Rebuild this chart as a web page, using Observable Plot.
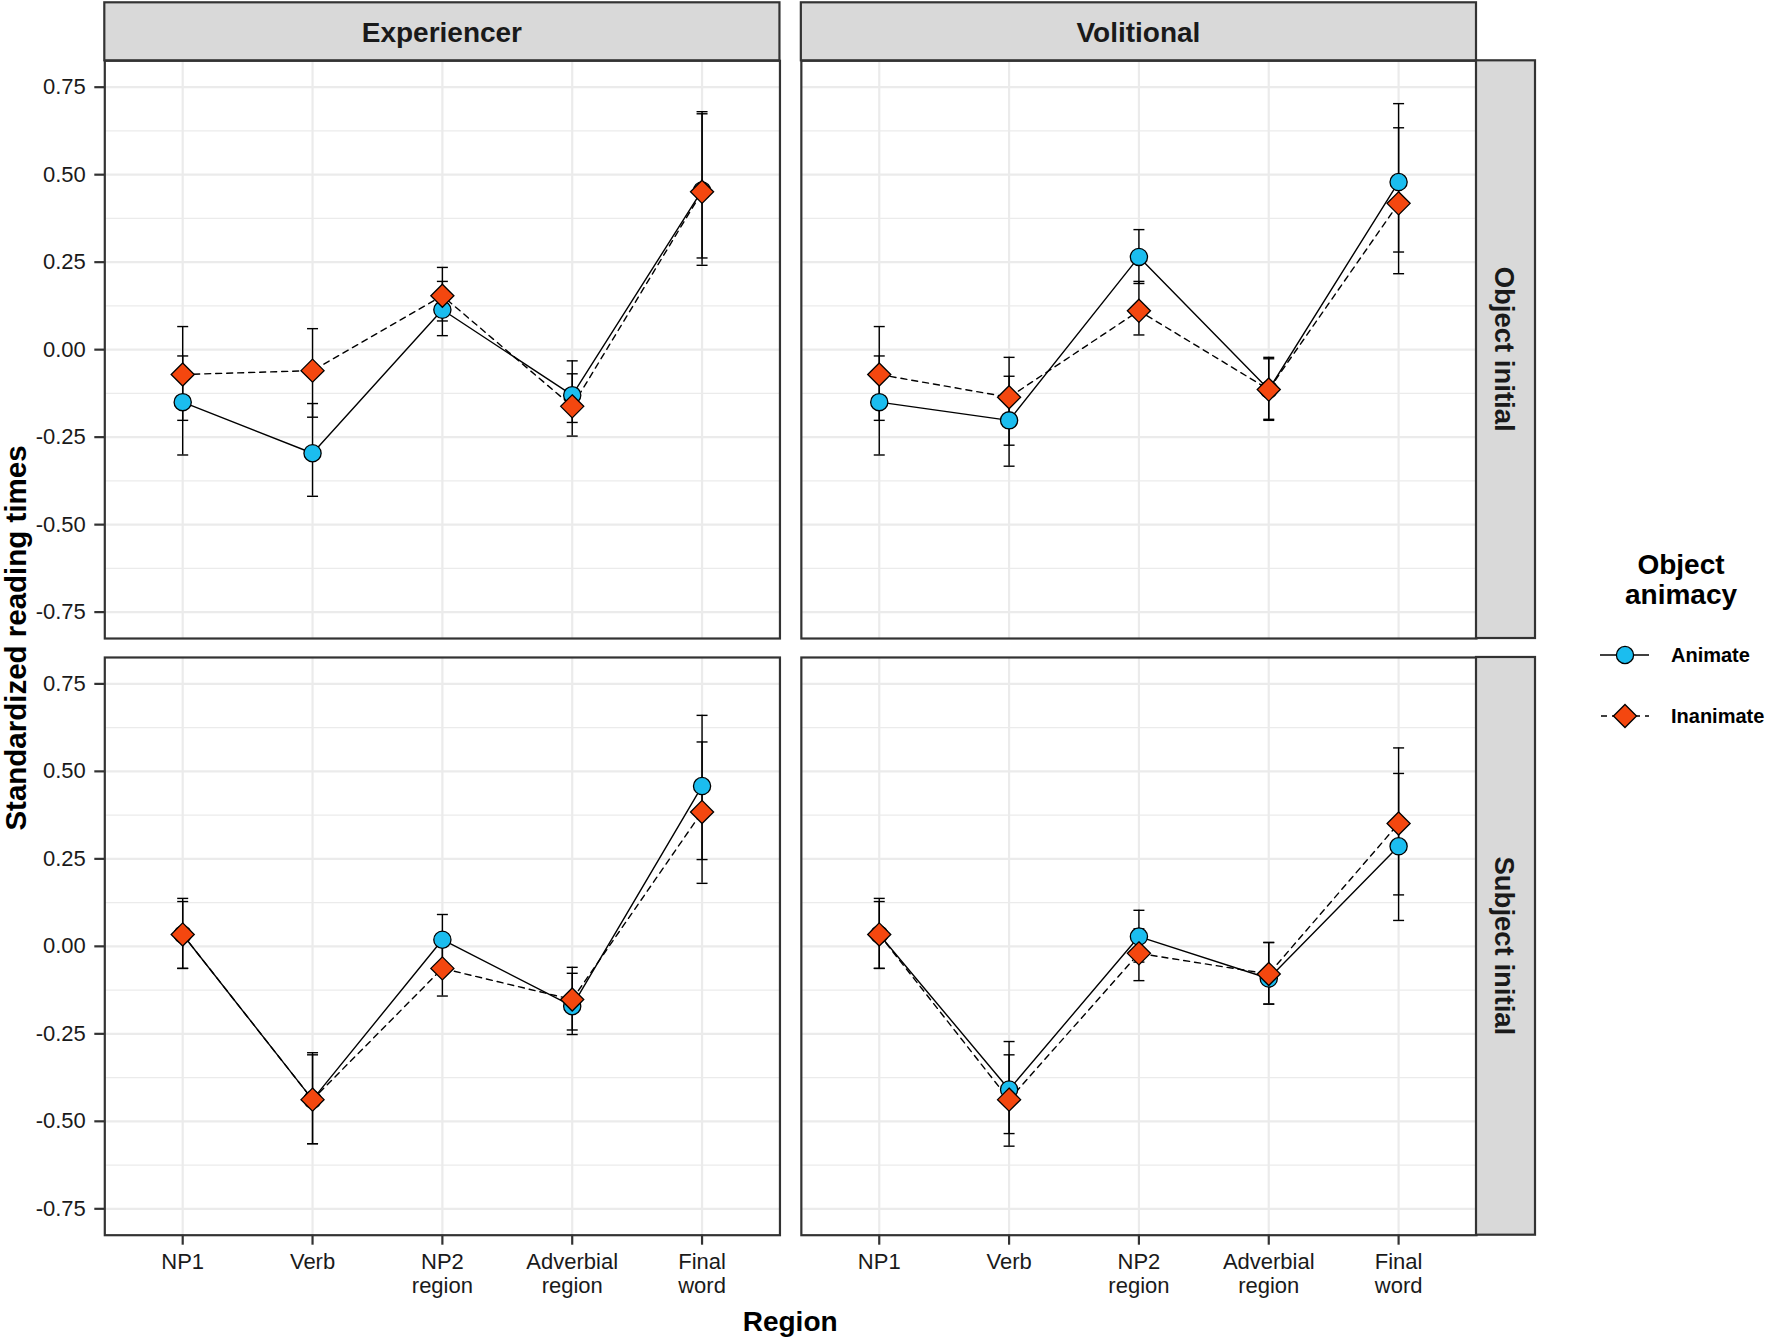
<!DOCTYPE html>
<html><head><meta charset="utf-8">
<script src="https://cdn.jsdelivr.net/npm/d3@7"></script>
<script src="https://cdn.jsdelivr.net/npm/@observablehq/plot@0.6"></script>
<style>
body{margin:0;background:#fff;}
#chart{position:relative;width:1772px;height:1340px;overflow:hidden;}
</style>
</head><body><div id="chart"></div>
<script>
// ---- categories / labels ----
const regions = ["NP1", "Verb", "NP2 region", "Adverbial region", "Final word"];
const regionLabels = ["NP1", "Verb", "NP2\nregion", "Adverbial\nregion", "Final\nword"];
const verbTypes = ["Experiencer", "Volitional"];
const orders = ["Object initial", "Subject initial"];
const animacyLevels = ["Animate", "Inanimate"];
const majorTicks = [-0.75, -0.5, -0.25, 0, 0.25, 0.5, 0.75];
const minorTicks = [-0.625, -0.375, -0.125, 0.125, 0.375, 0.625];
const legendTitle = "Object\nanimacy";
const xTitle = "Region";
const yTitle = "Standardized reading times";

// ---- values ----
// Experiencer / Object initial
const expObjAnimateMean = [-0.150, -0.296, 0.114, -0.130, 0.455];
const expObjAnimateLow  = [-0.301, -0.419, 0.040, -0.208, 0.241];
const expObjAnimateHigh = [-0.018, -0.154, 0.195, -0.032, 0.674];
const expObjInanimateMean = [-0.071, -0.060, 0.154, -0.162, 0.451];
const expObjInanimateLow  = [-0.202, -0.193, 0.082, -0.247, 0.262];
const expObjInanimateHigh = [0.066, 0.060, 0.235, -0.069, 0.680];
// Volitional / Object initial
const volObjAnimateMean = [-0.150, -0.202, 0.265, -0.114, 0.479];
const volObjAnimateLow  = [-0.301, -0.333, 0.189, -0.199, 0.279];
const volObjAnimateHigh = [-0.018, -0.076, 0.343, -0.022, 0.703];
const volObjInanimateMean = [-0.071, -0.136, 0.111, -0.114, 0.418];
const volObjInanimateLow  = [-0.202, -0.273, 0.042, -0.202, 0.217];
const volObjInanimateHigh = [0.066, -0.022, 0.195, -0.026, 0.634];
// Experiencer / Subject initial
const expSubjAnimateMean = [0.034, -0.438, 0.019, -0.171, 0.458];
const expSubjAnimateLow  = [-0.063, -0.564, -0.055, -0.252, 0.248];
const expSubjAnimateHigh = [0.128, -0.304, 0.091, -0.077, 0.660];
const expSubjInanimateMean = [0.034, -0.438, -0.063, -0.152, 0.384];
const expSubjInanimateLow  = [-0.063, -0.564, -0.142, -0.239, 0.180];
const expSubjInanimateHigh = [0.137, -0.310, 0.017, -0.060, 0.584];
// Volitional / Subject initial
const volSubjAnimateMean = [0.034, -0.409, 0.028, -0.092, 0.286];
const volSubjAnimateLow  = [-0.063, -0.535, -0.045, -0.165, 0.074];
const volSubjAnimateHigh = [0.128, -0.272, 0.103, 0.011, 0.494];
const volSubjInanimateMean = [0.034, -0.438, -0.020, -0.079, 0.351];
const volSubjInanimateLow  = [-0.063, -0.571, -0.098, -0.165, 0.147];
const volSubjInanimateHigh = [0.137, -0.310, 0.050, 0.011, 0.567];

const series = [
  ["Experiencer", "Object initial", "Animate", expObjAnimateMean, expObjAnimateLow, expObjAnimateHigh],
  ["Experiencer", "Object initial", "Inanimate", expObjInanimateMean, expObjInanimateLow, expObjInanimateHigh],
  ["Volitional", "Object initial", "Animate", volObjAnimateMean, volObjAnimateLow, volObjAnimateHigh],
  ["Volitional", "Object initial", "Inanimate", volObjInanimateMean, volObjInanimateLow, volObjInanimateHigh],
  ["Experiencer", "Subject initial", "Animate", expSubjAnimateMean, expSubjAnimateLow, expSubjAnimateHigh],
  ["Experiencer", "Subject initial", "Inanimate", expSubjInanimateMean, expSubjInanimateLow, expSubjInanimateHigh],
  ["Volitional", "Subject initial", "Animate", volSubjAnimateMean, volSubjAnimateLow, volSubjAnimateHigh],
  ["Volitional", "Subject initial", "Inanimate", volSubjInanimateMean, volSubjInanimateLow, volSubjInanimateHigh]
];
const rows = series.flatMap(([verb, order, animacy, m, lo, hi]) =>
  regions.map((region, i) => ({verb, order, animacy, region, mean: m[i], low: lo[i], high: hi[i]})));
const animRows = rows.filter(d => d.animacy === "Animate");
const inanRows = rows.filter(d => d.animacy === "Inanimate");

const animFill = "#1BBDEF";
const inanFill = "#F4470F";
const FONT = "'Liberation Sans', Arial, Helvetica, sans-serif";
const capSymbol = {draw(ctx) { ctx.moveTo(-5.5, 0); ctx.lineTo(5.5, 0); }};
const fmt = d => d.toFixed(2);

const common = {x: "region", fx: "verb", fy: "order"};

const plot = Plot.plot({
  width: 1772, height: 1340,
  marginLeft: 104.3, marginRight: 296, marginTop: 60.3, marginBottom: 105.3,
  style: {fontFamily: FONT, background: "white", overflow: "visible"},
  fx: {domain: verbTypes, paddingInner: 0.0307, paddingOuter: 0, round: false, axis: null, label: null},
  fy: {domain: orders, paddingInner: 0.0318, paddingOuter: 0, round: false, axis: null, label: null},
  x: {type: "point", domain: regions, padding: 0.6, round: false, label: null, axis: null},
  y: {domain: [-0.8254, 0.8254], label: null, axis: null},
  marks: [
    Plot.gridY(minorTicks, {stroke: "#EBEBEB", strokeOpacity: 1, strokeWidth: 1.2}),
    Plot.gridY(majorTicks, {stroke: "#EBEBEB", strokeOpacity: 1, strokeWidth: 2.2}),
    Plot.gridX(regions, {stroke: "#EBEBEB", strokeOpacity: 1, strokeWidth: 2.2}),
    Plot.axisY(majorTicks, {facetAnchor: "left", tickSize: 10, tickPadding: 9, fontSize: 22,
      tickFormat: fmt, stroke: "#333", strokeWidth: 2.2, fill: "#1a1a1a", label: null}),
    Plot.axisX(regions, {facetAnchor: "bottom", tickSize: 10, tickPadding: 7, fontSize: 22, lineHeight: 1.08,
      tickFormat: d => regionLabels[regions.indexOf(d)], stroke: "#333", strokeWidth: 2.2, fill: "#1a1a1a", label: null}),
    Plot.line(animRows, {...common, y: "mean", stroke: "black", strokeWidth: 1.4}),
    Plot.line(inanRows, {...common, y: "mean", stroke: "black", strokeWidth: 1.4, strokeDasharray: "6,5"}),
    Plot.ruleX(rows, {...common, y1: "low", y2: "high", stroke: "black", strokeWidth: 1.4}),
    Plot.dot(rows, {...common, y: "low", symbol: capSymbol, r: 5, fill: "none", stroke: "black", strokeWidth: 1.4}),
    Plot.dot(rows, {...common, y: "high", symbol: capSymbol, r: 5, fill: "none", stroke: "black", strokeWidth: 1.4}),
    Plot.dot(animRows, {...common, y: "mean", symbol: "circle", r: 8.6, fill: animFill, stroke: "black", strokeWidth: 1.3}),
    Plot.dot(inanRows, {...common, y: "mean", symbol: "diamond2", r: 10.4, fill: inanFill, stroke: "black", strokeWidth: 1.3}),
    Plot.frame({stroke: "#333", strokeWidth: 2.2})
  ]
});
document.getElementById("chart").appendChild(plot);

// ---- strips, titles, legend drawn from the facet scales ----
const svg = d3.select(plot);
let fxS, fyS;
try { fxS = plot.scale("fx"); fyS = plot.scale("fy"); } catch (e) {}
const fxStart = v => fxS ? fxS.apply(v) : 104.3 + verbTypes.indexOf(v) * 696.6;
const fyStart = v => fyS ? fyS.apply(v) : 60.3 + orders.indexOf(v) * 596.7;
const fxBw = fxS ? fxS.bandwidth : 675.2;
const fyBw = fyS ? fyS.bandwidth : 577.7;
const fxEnd = fxStart(verbTypes[verbTypes.length - 1]) + fxBw;

const g = svg.append("g").attr("font-family", FONT).attr("text-anchor", "start");
verbTypes.forEach(v => {
  const x0 = fxStart(v);
  g.append("rect").attr("x", x0).attr("y", 2.3).attr("width", fxBw).attr("height", 60.3 - 2.3)
    .attr("fill", "#D9D9D9").attr("stroke", "#333").attr("stroke-width", 2.2);
  g.append("text").attr("x", x0 + fxBw / 2).attr("y", 41.5).attr("text-anchor", "middle")
    .attr("font-size", 28).attr("font-weight", "bold").attr("fill", "#1a1a1a").text(v);
});
orders.forEach(o => {
  const y0 = fyStart(o);
  g.append("rect").attr("x", fxEnd).attr("y", y0).attr("width", 59).attr("height", fyBw)
    .attr("fill", "#D9D9D9").attr("stroke", "#333").attr("stroke-width", 2.2);
  g.append("text").attr("transform", `translate(${fxEnd + 19},${y0 + fyBw / 2}) rotate(90)`)
    .attr("text-anchor", "middle").attr("font-size", 27.5).attr("font-weight", "bold")
    .attr("fill", "#1a1a1a").text(o);
});
// axis titles
g.append("text").attr("transform", `translate(26,638) rotate(-90)`)
  .attr("text-anchor", "middle").attr("font-size", 29.5).attr("font-weight", "bold").attr("fill", "#000").text(yTitle);
g.append("text").attr("x", (104.3 + fxEnd) / 2).attr("y", 1331).attr("text-anchor", "middle")
  .attr("font-size", 28).attr("font-weight", "bold").attr("fill", "#000").text(xTitle);

// legend
const lg = g.append("g");
legendTitle.split("\n").forEach((t, i) => {
  lg.append("text").attr("x", 1681).attr("y", 574 + i * 29.5).attr("text-anchor", "middle")
    .attr("font-size", 28).attr("font-weight", "bold").attr("fill", "#000").text(t);
});
const keyY = [655, 716];
animacyLevels.forEach((a, i) => {
  const y = keyY[i];
  lg.append("line").attr("x1", 1600).attr("x2", 1649).attr("y1", y).attr("y2", y)
    .attr("stroke", "black").attr("stroke-width", 1.4).attr("stroke-dasharray", i ? "6,5" : null)
    .attr("stroke-dashoffset", i ? -1 : null);
  if (i === 0) {
    lg.append("circle").attr("cx", 1625).attr("cy", y).attr("r", 8.6)
      .attr("fill", animFill).attr("stroke", "black").attr("stroke-width", 1.3);
  } else {
    lg.append("path").attr("d", d3.symbol(d3.symbolDiamond2, Math.PI * 10.4 * 10.4)())
      .attr("transform", `translate(1625,${y})`)
      .attr("fill", inanFill).attr("stroke", "black").attr("stroke-width", 1.3);
  }
  lg.append("text").attr("x", 1671).attr("y", y + 7).attr("text-anchor", "start")
    .attr("font-size", 20).attr("font-weight", "bold").attr("fill", "#000").text(a);
});
</script>
</body></html>
